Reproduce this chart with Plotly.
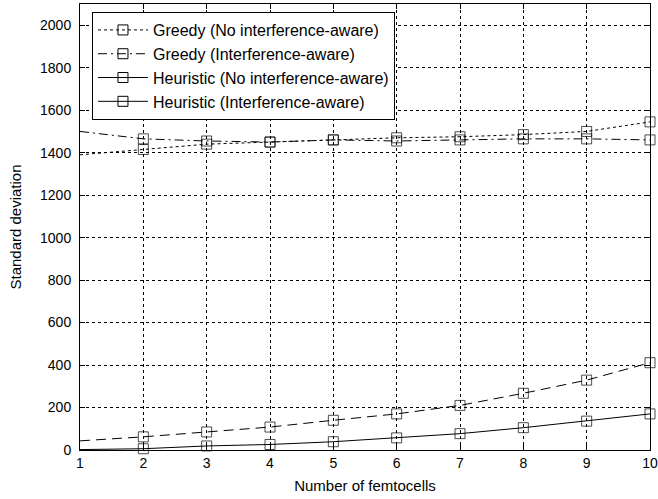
import plotly.graph_objects as go

femtocells = [1, 2, 3, 4, 5, 6, 7, 8, 9, 10]
greedy_no_ia = [1390, 1415, 1440, 1450, 1460, 1470, 1475, 1485, 1500, 1545]
greedy_ia = [1500, 1465, 1455, 1450, 1460, 1455, 1460, 1465, 1465, 1460]
heur_no_ia = [43, 62, 85, 108, 140, 170, 210, 267, 329, 411]
heur_ia = [2, 6, 19, 26, 39, 57, 77, 105, 136, 170]

names = ["Greedy (No interference-aware)", "Greedy (Interference-aware)",
         "Heuristic (No interference-aware)", "Heuristic (Interference-aware)"]
series = [greedy_no_ia, greedy_ia, heur_no_ia, heur_ia]
plot_dash = ["3px,3px", "9px,4px,2px,4px", "10px,6px", "solid"]
legend_dash = ["3px,3px", "9px,4px,2px,4px", "solid", "solid"]

marker_sizes = [0] + [10] * (len(femtocells) - 1)

fig = go.Figure()
for name, ys, d in zip(names, series, plot_dash):
    fig.add_trace(go.Scatter(
        x=femtocells, y=ys, mode="lines+markers", name=name, showlegend=False,
        cliponaxis=False,
        line=dict(color="black", width=1, dash=d),
        marker=dict(symbol="square-open", size=marker_sizes, color="black",
                    line=dict(width=1, color="black")),
    ))
for name, d in zip(names, legend_dash):
    fig.add_trace(go.Scatter(
        x=[None], y=[None], mode="lines+markers", name=name,
        line=dict(color="black", width=1, dash=d),
        marker=dict(symbol="square-open", size=10, color="black",
                    line=dict(width=1, color="black")),
    ))

FONT = "Liberation Sans, Arial"
axis_common = dict(
    showline=True, linecolor="black", linewidth=1, mirror="ticks",
    ticks="inside", ticklen=5, tickcolor="black",
    showgrid=True, gridcolor="black", gridwidth=1, griddash="3px,3px",
    zeroline=False, automargin=False,
    tickfont=dict(family=FONT, size=14, color="black"),
)

fig.update_layout(
    width=658, height=499,
    margin=dict(l=80, r=8, t=4, b=49),
    paper_bgcolor="white", plot_bgcolor="white",
    font=dict(family=FONT, size=14, color="black"),
    xaxis=dict(range=[1, 10], tickmode="array", tickvals=femtocells,
               title=dict(text="Number of femtocells", standoff=10,
                          font=dict(size=15)), **axis_common),
    yaxis=dict(range=[0, 2100], tickmode="array",
               tickvals=list(range(0, 2001, 200)),
               ticklabelstandoff=5,
               title=dict(text="Standard deviation", standoff=14,
                          font=dict(size=15)), **axis_common),
    legend=dict(x=0.021, y=0.982, xanchor="left", yanchor="top",
                bgcolor="white", bordercolor="black", borderwidth=1,
                itemwidth=50,
                font=dict(family=FONT, size=16, color="black"),
                tracegroupgap=0),
)

fig.write_html("out.html", config={"displayModeBar": False},
               post_script="document.body.style.margin='0px';")
